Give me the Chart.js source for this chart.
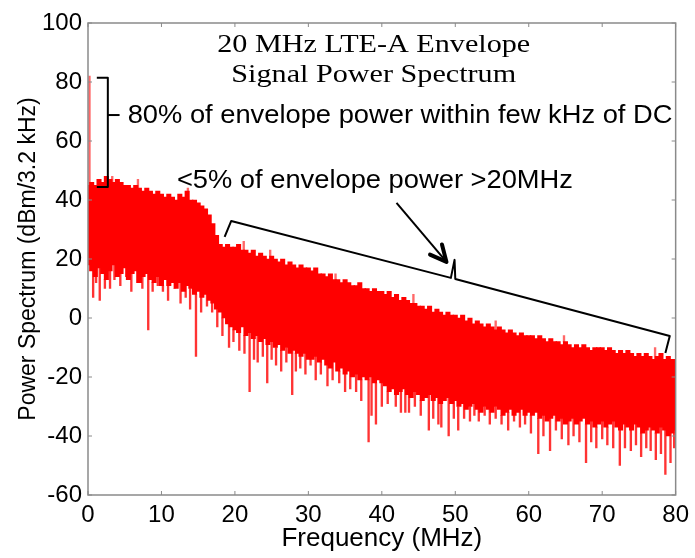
<!DOCTYPE html>
<html>
<head>
<meta charset="utf-8">
<script src="https://cdn.jsdelivr.net/npm/chart.js@4.4.0/dist/chart.umd.min.js"></script>
<style>body{margin:0;background:#fff}</style>
</head>
<body>
<canvas id="myChart" width="695" height="558"></canvas>
<script>
// spectrum, one bin every 0.5 MHz (0 .. 80 MHz)
const binStep = 0.5;
const topLevel = [45,
  46,45,47,46,48,47,46,47,46,45, 45,44,45,44,43,44,43,42,43,42,
  41,42,41,40,42,41,43,40,40,39, 38,37,35,32,28,25,24,25,24,24,
  25,23,23,22,23,21,22,21,20,21, 20,19,20,18,19,18,17,18,17,17,
  16,17,15,15,14,15,13,13,12,13, 12,11,11,12,10,10,9,10,9,9,
  8,9,7,8,6,7,6,5,5,4, 4,3,4,2,3,2,1,2,1,1,
  0,1,-1,0,-2,-1,-2,-3,-2,-3, -4,-3,-4,-5,-4,-5,-6,-5,-6,-6,
  -6,-7,-6,-7,-8,-7,-8,-8,-9,-8, -9,-10,-9,-10,-9,-10,-11,-10,-10,-10,
  -11,-10,-11,-12,-11,-12,-11,-12,-13,-12, -13,-12,-13,-14,-13,-12,-14,-13,-14,-14];
const denseFloor = [18,
  16,14,17,15,13,16,18,14,15,17, 13,15,16,12,14,15,13,12,14,11,
  13,11,12,10,12,9,11,10,8,9, 7,8,6,5,3,2,0,-2,-3,-4,
  -5,-3,-6,-5,-7,-6,-8,-7,-9,-8, -10,-9,-11,-10,-12,-11,-12,-13,-12,-14,
  -14,-13,-15,-14,-16,-17,-15,-18,-17,-19, -18,-20,-19,-21,-20,-21,-20,-22,-21,-22,
  -23,-25,-24,-26,-25,-24,-26,-27,-25,-26, -28,-27,-26,-28,-27,-29,-28,-27,-29,-28,
  -30,-29,-31,-30,-29,-31,-32,-30,-31,-32, -30,-31,-33,-32,-31,-33,-32,-31,-33,-32,
  -33,-32,-34,-33,-35,-34,-33,-35,-34,-36, -35,-34,-36,-35,-34,-36,-35,-37,-36,-35,
  -37,-36,-35,-37,-38,-36,-37,-38,-36,-37, -39,-38,-37,-38,-39,-37,-38,-40,-39,-38];

// narrow downward dips below the dense part
const spikeFreq = [0.7,1.1,1.6,2.3,3.0,3.6,4.4,5.2,5.9,6.7,7.4,8.2,8.8,9.5,10.2,10.9,11.8,12.6,13.3,13.9,
  14.7,15.4,16.2,16.9,17.6,18.3,19.2,19.8,20.6,21.3,22.0,22.6,23.1,23.8,24.4,25.0,25.6,26.3,27.0,27.8,
  28.3,28.9,29.6,30.3,31.0,31.7,32.6,33.3,34.2,35.0,35.7,36.5,37.2,38.2,38.6,39.2,40.0,40.8,41.9,42.6,
  43.2,43.7,44.5,45.3,46.4,47.0,47.7,48.1,49.1,49.8,50.4,51.2,52.0,52.6,53.2,54.0,54.7,55.5,56.3,57.2,
  58.0,58.8,59.5,60.3,61.3,62.0,62.9,63.7,64.5,65.4,66.1,66.9,67.8,68.5,69.2,70.0,70.7,71.5,72.4,73.1,
  73.9,74.6,75.3,76.0,76.6,77.3,78.0,78.6,79.3,79.8];
const spikeLow = [7,12,6,10,10,13,11,14,9,12,10,-4,9,11,9,6,10,5,7,3,
  -13,2,4,2,-3,-6,-10,-8,-11,-12,-25,-14,-15,-13,-22,-14,-16,-18,-15,-26,
  -18,-17,-19,-16,-21,-19,-23,-21,-22,-25,-24,-25,-28,-42,-33,-36,-30,-29,-30,-32,
  -32,-32,-30,-33,-38,-34,-36,-37,-40,-34,-38,-34,-35,-33,-35,-33,-36,-34,-36,-38,
  -35,-37,-36,-39,-46,-40,-45,-38,-41,-43,-40,-42,-49,-42,-44,-41,-43,-44,-50,-44,
  -45,-43,-47,-44,-45,-48,-46,-53,-49,-44];

// narrow upward peaks (DC line first)
const peakFreq = [0.2,3.3,4.0,6.8,13.6,21.2,24.8,33.7,44.3,55.5,64.8,77.2];
const peakHigh = [82,48,47,47,44,26,23,15,8,-1,-6,-10];

const xTicks = [0,10,20,30,40,50,60,70,80];
const yTicks = [-60,-40,-20,0,20,40,60,80,100];

// annotation geometry in axis units [MHz, dB]
const leftBracket = [[1.2,81.4],[2.7,81.4],[2.7,44.4],[1.2,44.4]];
const leftStub = [[2.7,68.8],[4.3,68.8]];
const spanBracket = [[18.6,27.5],[19.5,32.9],[49.4,13.6],[49.9,19.7],[50.0,13.2],[79.2,-6.1],[78.6,-11.9]];
const arrowLine = [[42.0,39.0],[48.8,19.0]];

const freq = topLevel.map((v, i) => i * binStep);
const bin = f => Math.min(topLevel.length - 1, Math.round(f / binStep));

// text drawn a little wider than the font, like the stretched original
function wideText(ctx, text, x, y, sx) {
    ctx.save();
    ctx.translate(x, y);
    ctx.scale(sx, 1);
    ctx.fillText(text, 0, 0);
    ctx.restore();
}

const frame = {
    id: 'frame',
    afterDraw(chart) {
        const {ctx, chartArea: a, scales: {x, y}} = chart;
        const px = p => [x.getPixelForValue(p[0]), y.getPixelForValue(p[1])];
        const poly = pts => {
            ctx.beginPath();
            pts.forEach((p, i) => { const q = px(p); i ? ctx.lineTo(q[0], q[1]) : ctx.moveTo(q[0], q[1]); });
            ctx.stroke();
        };
        ctx.save();
        ctx.strokeStyle = '#8a8a8a';
        ctx.lineWidth = 1.5;
        ctx.strokeRect(a.left, a.top, a.right - a.left, a.bottom - a.top);
        ctx.lineWidth = 1;
        ctx.beginPath();
        xTicks.forEach(v => {
            const p = x.getPixelForValue(v);
            ctx.moveTo(p, a.bottom); ctx.lineTo(p, a.bottom - 4);
            ctx.moveTo(p, a.top); ctx.lineTo(p, a.top + 4);
        });
        yTicks.forEach(v => {
            const p = y.getPixelForValue(v);
            ctx.moveTo(a.left, p); ctx.lineTo(a.left + 4, p);
            ctx.moveTo(a.right, p); ctx.lineTo(a.right - 4, p);
        });
        ctx.stroke();

        // brackets and arrow
        ctx.strokeStyle = '#000';
        ctx.lineWidth = 2;
        ctx.lineJoin = 'round';
        poly(leftBracket);
        poly(leftStub);
        poly(spanBracket);
        poly(arrowLine);
        const s = px(arrowLine[0]), e = px(arrowLine[1]);
        const ang = Math.atan2(e[1] - s[1], e[0] - s[0]);
        ctx.lineWidth = 4;
        ctx.lineCap = 'round';
        ctx.beginPath();
        ctx.moveTo(e[0] - 18 * Math.cos(ang - 0.45), e[1] - 18 * Math.sin(ang - 0.45));
        ctx.lineTo(e[0], e[1]);
        ctx.lineTo(e[0] - 18 * Math.cos(ang + 0.45), e[1] - 18 * Math.sin(ang + 0.45));
        ctx.stroke();

        // texts
        ctx.fillStyle = '#000';
        ctx.textBaseline = 'middle';
        ctx.textAlign = 'center';
        ctx.font = '26px "Liberation Serif"';
        let p = px([38.9, 92.5]);
        wideText(ctx, '20 MHz LTE-A Envelope', p[0], p[1], 1.16);
        p = px([38.9, 82.3]);
        wideText(ctx, 'Signal Power Spectrum', p[0], p[1], 1.16);
        ctx.textAlign = 'left';
        ctx.font = '26px "Liberation Sans"';
        p = px([5.4, 68.6]);
        wideText(ctx, '80% of envelope power within few kHz of DC', p[0], p[1], 1.05);
        p = px([12.1, 46.6]);
        wideText(ctx, '<5% of envelope power >20MHz', p[0], p[1], 1.05);
        ctx.restore();
    }
};

const ctx = document.getElementById('myChart');

const myChart = new Chart(ctx, {
    type: 'bar',
    data: {
        datasets: [{
            data: freq.map((f, i) => ({x: f, y: [denseFloor[i], topLevel[i]]})),
            backgroundColor: '#ff0000',
            barThickness: 4.4,
            grouped: false
        }, {
            data: spikeFreq.map((f, i) => ({x: f, y: [spikeLow[i], denseFloor[bin(f)]]})),
            backgroundColor: 'rgba(255, 0, 0, 0.8)',
            barThickness: 1.7,
            grouped: false
        }, {
            data: peakFreq.map((f, i) => ({x: f, y: [topLevel[bin(f)], peakHigh[i]]})),
            backgroundColor: 'rgba(255, 40, 40, 0.7)',
            barThickness: 1.7,
            grouped: false
        }]
    },
    options: {
        responsive: false,
        animation: false,
        layout: {padding: {top: 23, right: 17, left: 0, bottom: 0}},
        plugins: {
            legend: {display: false},
            tooltip: {enabled: false}
        },
        scales: {
            x: {
                type: 'linear',
                min: 0,
                max: 80,
                offset: false,
                grid: {display: false, drawTicks: false},
                border: {display: false},
                ticks: {stepSize: 10, color: '#000', padding: 6, maxRotation: 0, font: {family: 'Liberation Sans', size: 24}},
                title: {display: true, text: 'Frequency (MHz)', color: '#000', padding: {top: 0, bottom: 4}, font: {family: 'Liberation Sans', size: 26}},
                afterFit: s => { s.height = 63; }
            },
            y: {
                min: -60,
                max: 100,
                grid: {display: false, drawTicks: false},
                border: {display: false},
                ticks: {stepSize: 20, color: '#000', padding: 6, font: {family: 'Liberation Sans', size: 24}},
                title: {display: true, text: 'Power Spectrum (dBm/3.2 kHz)', color: '#000', padding: {top: 15, bottom: 0}, font: {family: 'Liberation Sans', size: 23}},
                afterFit: s => { s.width = 88; }
            }
        }
    },
    plugins: [frame]
});
</script>
</body>
</html>
